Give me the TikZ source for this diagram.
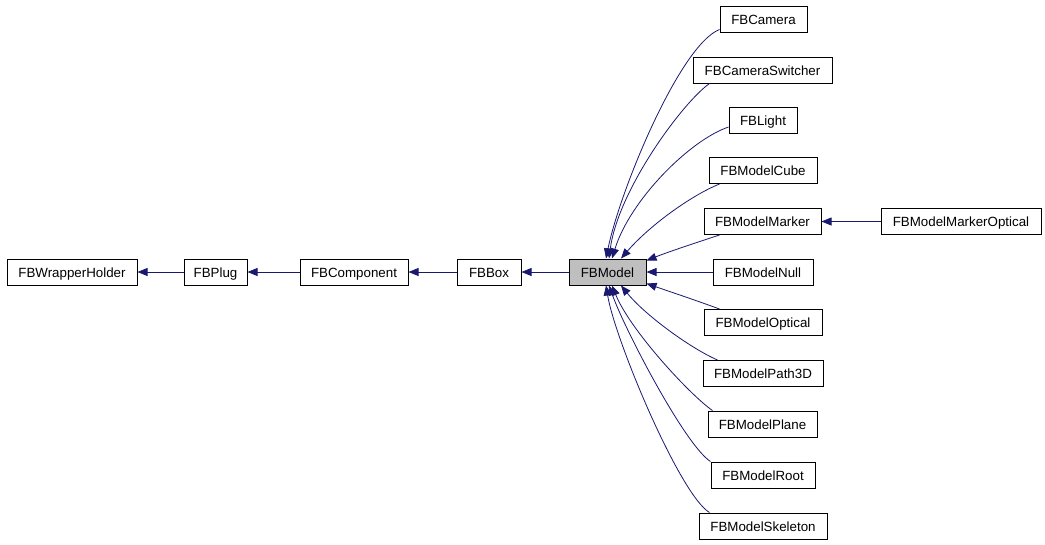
\documentclass[tikz,border=0pt]{standalone}
\usepackage{fontspec}
\setmainfont{Liberation Sans}
\usetikzlibrary{arrows.meta,calc}
\definecolor{edgeblue}{RGB}{25,25,112}
\definecolor{modelgray}{RGB}{191,191,191}
\begin{document}
\begin{tikzpicture}[x=0.75pt,y=-0.75pt,
  cls/.style={draw=black, line width=0.75pt, fill=white, minimum height=19.5pt, inner sep=0pt, text height=7.6pt, text depth=0pt, font=\fontsize{10}{12}\selectfont},
  bw/.style={minimum width=#1*0.75pt},
  inh/.style={draw=edgeblue, line width=0.6pt, -{Triangle[length=7.5pt,width=6pt,fill=edgeblue]}}]
\useasboundingbox (0,0) rectangle (1045,544);
% nodes
\node[cls,bw=130] (wrap) at (72,272) {FBWrapperHolder};
\node[cls,bw=63] (plug) at (215.5,272) {FBPlug};
\node[cls,bw=108] (comp) at (354,272) {FBComponent};
\node[cls,bw=64] (box) at (489,272) {FBBox};
\node[cls,bw=77,fill=modelgray] (model) at (607.5,272) {FBModel};
\node[cls,bw=87] (cam) at (763.5,19) {FBCamera};
\node[cls,bw=139] (csw) at (762.5,70) {FBCameraSwitcher};
\node[cls,bw=68] (light) at (763,120.5) {FBLight};
\node[cls,bw=108] (cube) at (763,170.5) {FBModelCube};
\node[cls,bw=117] (marker) at (762.5,221.5) {FBModelMarker};
\node[cls,bw=160] (mopt) at (961,221.5) {FBModelMarkerOptical};
\node[cls,bw=100] (null) at (763,272) {FBModelNull};
\node[cls,bw=118] (optical) at (763,322.5) {FBModelOptical};
\node[cls,bw=120] (path) at (763,373.5) {FBModelPath3D};
\node[cls,bw=109] (plane) at (762.5,424) {FBModelPlane};
\node[cls,bw=104] (root) at (763,475) {FBModelRoot};
\node[cls,bw=128] (skel) at (763,526) {FBModelSkeleton};
% straight edges
\draw[inh] (plug) -- (wrap);
\draw[inh] (comp) -- (plug);
\draw[inh] (box) -- (comp);
\draw[inh] (model) -- (box);
\draw[inh] (null) -- (model);
\draw[inh] (mopt) -- (marker);
% curved edges, upper
\draw[inh] ($(cam.south west)+(0,-3)$) .. controls (680,45) and (620,190) .. ($(model.north)+(-1.5,0)$);
\draw[inh] ($(csw.south west)+(17,0)$) .. controls (683,102) and (618,190) .. ($(model.north)+(1.5,0)$);
\draw[inh] ($(light.south west)+(0,-7)$) .. controls (690,140) and (630,200) .. ($(model.north)+(4.5,0)$);
\draw[inh] ($(cube.south west)+(11,0)$) .. controls (692,195) and (650,225) .. ($(model.north)+(13.5,0)$);
\draw[inh] ($(marker.south west)+(16,0)$) .. controls (695,243) and (668,252) .. ($(model.north east)+(0,2)$);
% curved edges, lower
\draw[inh] ($(optical.north west)+(16,0)$) .. controls (695,300) and (668,291) .. ($(model.south east)+(0,-2)$);
\draw[inh] ($(path.north west)+(15,0)$) .. controls (690,348) and (645,315) .. ($(model.south)+(13.5,0)$);
\draw[inh] ($(plane.north west)+(5,0)$) .. controls (690,395) and (630,330) .. ($(model.south)+(4.5,0)$);
\draw[inh] ($(root.north west)+(0,0)$) .. controls (685,445) and (625,330) .. ($(model.south)+(1.5,0)$);
\draw[inh] ($(skel.north west)+(11,0)$) .. controls (680,495) and (615,340) .. ($(model.south)+(-1.5,0)$);
\end{tikzpicture}
\end{document}
